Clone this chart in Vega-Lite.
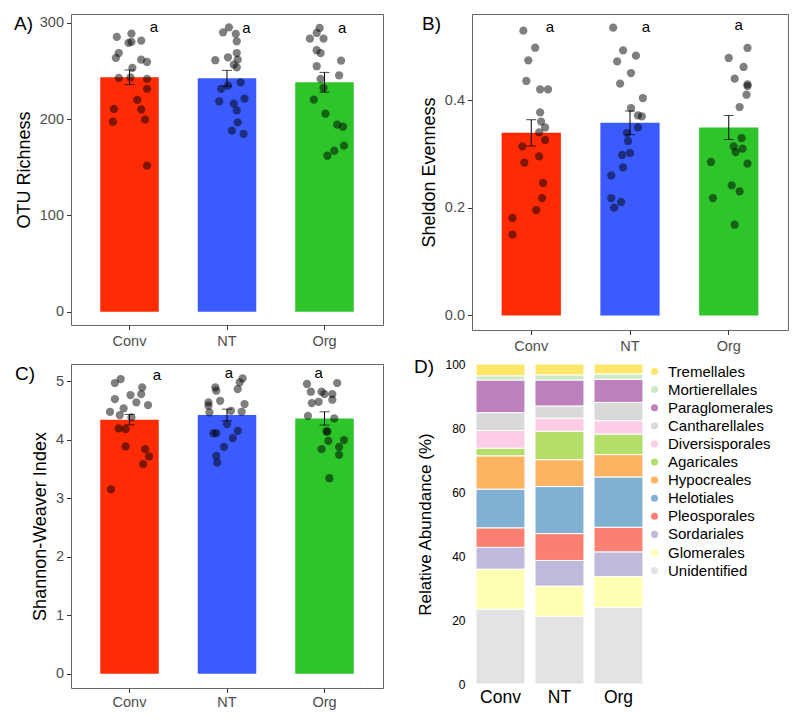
{
  "$schema": "https://vega.github.io/schema/vega-lite/v6.json",
  "background": "white",
  "padding": {"left": 13, "top": 13, "right": 0, "bottom": 0},
  "config": {
    "font": "Liberation Sans",
    "view": {"stroke": "#666666", "strokeWidth": 1},
    "axis": {"domain": false, "grid": false, "labelFontSize": 14.5, "labelColor": "#4D4D4D", "titleFontSize": 18, "titleFontWeight": "normal", "titleColor": "black", "tickColor": "#333333", "tickSize": 4.5, "labelPadding": 3, "titlePadding": 6},
    "axisX": {"labelPadding": 5},
    "title": {"fontSize": 19, "fontWeight": "normal", "color": "black", "anchor": "start", "frame": "group", "offset": 0, "baseline": "alphabetic"}
  },
  "datasets": {
    "ricP": [
      {"t":"Conv","v":285.2,"j":-0.13},{"t":"Conv","v":288.6,"j":0.02},{"t":"Conv","v":280,"j":0.02},{"t":"Conv","v":279,"j":-0.01},{"t":"Conv","v":281.3,"j":0.12},{"t":"Conv","v":268.5,"j":-0.11},{"t":"Conv","v":263.4,"j":-0.14},{"t":"Conv","v":261.6,"j":0.12},{"t":"Conv","v":259.2,"j":0.18},{"t":"Conv","v":253,"j":0.03},{"t":"Conv","v":242.6,"j":-0.11},{"t":"Conv","v":243.3,"j":0.01},{"t":"Conv","v":241.6,"j":0.18},{"t":"Conv","v":231.2,"j":0.18},{"t":"Conv","v":219.8,"j":0.08},{"t":"Conv","v":210.4,"j":-0.16},{"t":"Conv","v":210.1,"j":0.12},{"t":"Conv","v":197.2,"j":-0.17},{"t":"Conv","v":199.3,"j":0.16},{"t":"Conv","v":151.6,"j":0.18},
      {"t":"NT","v":295.2,"j":0.02},{"t":"NT","v":290,"j":-0.04},{"t":"NT","v":288.3,"j":0.09},{"t":"NT","v":280.7,"j":0.1},{"t":"NT","v":268.5,"j":0.1},{"t":"NT","v":264.1,"j":0.01},{"t":"NT","v":261,"j":-0.12},{"t":"NT","v":261.6,"j":0.11},{"t":"NT","v":256.4,"j":0.07},{"t":"NT","v":253.7,"j":0.1},{"t":"NT","v":238.1,"j":0.14},{"t":"NT","v":234.6,"j":0.01},{"t":"NT","v":231.2,"j":-0.06},{"t":"NT","v":221.1,"j":0.18},{"t":"NT","v":218.4,"j":-0.08},{"t":"NT","v":215.9,"j":0.07},{"t":"NT","v":209,"j":0.1},{"t":"NT","v":196.6,"j":0.11},{"t":"NT","v":187.9,"j":0.05},{"t":"NT","v":184.5,"j":0.17},
      {"t":"Org","v":294.5,"j":-0.05},{"t":"Org","v":289.3,"j":-0.08},{"t":"Org","v":283.4,"j":-0.15},{"t":"Org","v":283.4,"j":-0.01},{"t":"Org","v":271.4,"j":-0.08},{"t":"Org","v":268.5,"j":-0.04},{"t":"Org","v":260.6,"j":0.17},{"t":"Org","v":254.8,"j":-0.08},{"t":"Org","v":245.4,"j":0.15},{"t":"Org","v":241.6,"j":-0.04},{"t":"Org","v":232.2,"j":-0.01},{"t":"Org","v":220.1,"j":-0.11},{"t":"Org","v":205.5,"j":0.01},{"t":"Org","v":194.1,"j":0.13},{"t":"Org","v":192,"j":0.19},{"t":"Org","v":167.1,"j":0.1},{"t":"Org","v":172.3,"j":0.2},{"t":"Org","v":161.9,"j":0.03}
    ],
    "ricS": [
      {"t":"Conv","m":243.3,"se":7.6,"ly":296,"lx":0.25,"sig":"a"},
      {"t":"NT","m":242.3,"se":8.2,"ly":294,"lx":0.2,"sig":"a"},
      {"t":"Org","m":238.1,"se":10.3,"ly":294,"lx":0.18,"sig":"a"}
    ],
    "evP": [
      {"t":"Conv","v":0.5287,"j":-0.08},{"t":"Conv","v":0.4971,"j":0.04},{"t":"Conv","v":0.4736,"j":-0.03},{"t":"Conv","v":0.4353,"j":-0.05},{"t":"Conv","v":0.4197,"j":0.09},{"t":"Conv","v":0.4197,"j":0.17},{"t":"Conv","v":0.377,"j":0.09},{"t":"Conv","v":0.36,"j":0.1},{"t":"Conv","v":0.349,"j":0.14},{"t":"Conv","v":0.34,"j":0.08},{"t":"Conv","v":0.3257,"j":0.14},{"t":"Conv","v":0.3139,"j":-0.09},{"t":"Conv","v":0.2953,"j":0.08},{"t":"Conv","v":0.2836,"j":-0.07},{"t":"Conv","v":0.2459,"j":0.12},{"t":"Conv","v":0.218,"j":0.11},{"t":"Conv","v":0.1957,"j":0.05},{"t":"Conv","v":0.1809,"j":-0.19},{"t":"Conv","v":0.1499,"j":-0.19},
      {"t":"NT","v":0.5343,"j":-0.17},{"t":"NT","v":0.4921,"j":-0.07},{"t":"NT","v":0.4823,"j":0.06},{"t":"NT","v":0.4717,"j":-0.13},{"t":"NT","v":0.4501,"j":0.01},{"t":"NT","v":0.4303,"j":-0.1},{"t":"NT","v":0.4037,"j":0.13},{"t":"NT","v":0.3851,"j":0.01},{"t":"NT","v":0.3714,"j":0.08},{"t":"NT","v":0.3695,"j":0.12},{"t":"NT","v":0.3491,"j":0.08},{"t":"NT","v":0.3387,"j":-0.03},{"t":"NT","v":0.3239,"j":-0.02},{"t":"NT","v":0.2979,"j":-0.08},{"t":"NT","v":0.3016,"j":0.0},{"t":"NT","v":0.2748,"j":-0.07},{"t":"NT","v":0.26,"j":-0.19},{"t":"NT","v":0.218,"j":-0.19},{"t":"NT","v":0.2106,"j":-0.09},{"t":"NT","v":0.2,"j":-0.16},
      {"t":"Org","v":0.4966,"j":0.19},{"t":"Org","v":0.478,"j":0.0},{"t":"Org","v":0.4613,"j":0.15},{"t":"Org","v":0.4396,"j":0.06},{"t":"Org","v":0.429,"j":0.19},{"t":"Org","v":0.426,"j":0.19},{"t":"Org","v":0.4098,"j":0.18},{"t":"Org","v":0.387,"j":0.11},{"t":"Org","v":0.3294,"j":0.13},{"t":"Org","v":0.3138,"j":0.05},{"t":"Org","v":0.3096,"j":0.14},{"t":"Org","v":0.3034,"j":0.07},{"t":"Org","v":0.2849,"j":-0.18},{"t":"Org","v":0.2817,"j":0.19},{"t":"Org","v":0.2414,"j":0.03},{"t":"Org","v":0.2303,"j":0.11},{"t":"Org","v":0.218,"j":-0.16},{"t":"Org","v":0.1684,"j":0.06}
    ],
    "evS": [
      {"t":"Conv","m":0.339,"se":0.0244,"ly":0.535,"lx":0.19,"sig":"a"},
      {"t":"NT","m":0.3576,"se":0.022,"ly":0.535,"lx":0.16,"sig":"a"},
      {"t":"Org","m":0.349,"se":0.0223,"ly":0.539,"lx":0.1,"sig":"a"}
    ],
    "shP": [
      {"t":"Conv","v":5.04,"j":-0.09},{"t":"Conv","v":4.972,"j":-0.15},{"t":"Conv","v":4.898,"j":0.13},{"t":"Conv","v":4.783,"j":0.12},{"t":"Conv","v":4.766,"j":0.01},{"t":"Conv","v":4.697,"j":-0.15},{"t":"Conv","v":4.641,"j":0.07},{"t":"Conv","v":4.595,"j":0.19},{"t":"Conv","v":4.538,"j":-0.06},{"t":"Conv","v":4.48,"j":-0.2},{"t":"Conv","v":4.423,"j":-0.1},{"t":"Conv","v":4.384,"j":0.02},{"t":"Conv","v":4.195,"j":-0.11},{"t":"Conv","v":4.183,"j":-0.04},{"t":"Conv","v":3.886,"j":-0.04},{"t":"Conv","v":3.84,"j":0.16},{"t":"Conv","v":3.715,"j":0.2},{"t":"Conv","v":3.583,"j":0.14},{"t":"Conv","v":3.154,"j":-0.19},
      {"t":"NT","v":5.052,"j":0.16},{"t":"NT","v":4.984,"j":0.13},{"t":"NT","v":4.869,"j":0.11},{"t":"NT","v":4.898,"j":-0.12},{"t":"NT","v":4.84,"j":-0.11},{"t":"NT","v":4.668,"j":-0.07},{"t":"NT","v":4.641,"j":-0.19},{"t":"NT","v":4.612,"j":0.18},{"t":"NT","v":4.583,"j":-0.19},{"t":"NT","v":4.469,"j":-0.18},{"t":"NT","v":4.497,"j":0.04},{"t":"NT","v":4.48,"j":0.15},{"t":"NT","v":4.269,"j":0.0},{"t":"NT","v":4.154,"j":0.11},{"t":"NT","v":4.109,"j":-0.14},{"t":"NT","v":4.114,"j":-0.11},{"t":"NT","v":4.029,"j":0.06},{"t":"NT","v":3.88,"j":-0.03},{"t":"NT","v":3.725,"j":-0.11},{"t":"NT","v":3.612,"j":-0.1},
      {"t":"Org","v":4.955,"j":-0.18},{"t":"Org","v":4.972,"j":0.13},{"t":"Org","v":4.823,"j":-0.14},{"t":"Org","v":4.823,"j":-0.03},{"t":"Org","v":4.783,"j":0.0},{"t":"Org","v":4.783,"j":0.08},{"t":"Org","v":4.686,"j":0.08},{"t":"Org","v":4.651,"j":-0.06},{"t":"Org","v":4.629,"j":-0.13},{"t":"Org","v":4.411,"j":-0.17},{"t":"Org","v":4.366,"j":0.1},{"t":"Org","v":4.143,"j":0.02},{"t":"Org","v":4.143,"j":0.03},{"t":"Org","v":3.983,"j":0.04},{"t":"Org","v":3.995,"j":0.2},{"t":"Org","v":3.88,"j":0.15},{"t":"Org","v":3.84,"j":-0.03},{"t":"Org","v":3.743,"j":0.15},{"t":"Org","v":3.343,"j":0.05}
    ],
    "shS": [
      {"t":"Conv","m":4.345,"se":0.09,"ly":5.114,"lx":0.28,"sig":"a"},
      {"t":"NT","m":4.425,"se":0.1,"ly":5.138,"lx":0.02,"sig":"a"},
      {"t":"Org","m":4.366,"se":0.114,"ly":5.138,"lx":-0.06,"sig":"a"}
    ],
    "abund": [
      {"t":"Conv","o":"Unidentified","k":1,"p":23.4},{"t":"Conv","o":"Glomerales","k":2,"p":12.5},{"t":"Conv","o":"Sordariales","k":3,"p":6.8},{"t":"Conv","o":"Pleosporales","k":4,"p":6.1},{"t":"Conv","o":"Helotiales","k":5,"p":12.1},{"t":"Conv","o":"Hypocreales","k":6,"p":10.4},{"t":"Conv","o":"Agaricales","k":7,"p":2.4},{"t":"Conv","o":"Diversisporales","k":8,"p":5.5},{"t":"Conv","o":"Cantharellales","k":9,"p":5.6},{"t":"Conv","o":"Paraglomerales","k":10,"p":10.2},{"t":"Conv","o":"Mortierellales","k":11,"p":1.3},{"t":"Conv","o":"Tremellales","k":12,"p":3.7},
      {"t":"NT","o":"Unidentified","k":1,"p":21.1},{"t":"NT","o":"Glomerales","k":2,"p":9.5},{"t":"NT","o":"Sordariales","k":3,"p":8.0},{"t":"NT","o":"Pleosporales","k":4,"p":8.4},{"t":"NT","o":"Helotiales","k":5,"p":14.7},{"t":"NT","o":"Hypocreales","k":6,"p":8.4},{"t":"NT","o":"Agaricales","k":7,"p":8.9},{"t":"NT","o":"Diversisporales","k":8,"p":4.1},{"t":"NT","o":"Cantharellales","k":9,"p":3.8},{"t":"NT","o":"Paraglomerales","k":10,"p":8.1},{"t":"NT","o":"Mortierellales","k":11,"p":1.6},{"t":"NT","o":"Tremellales","k":12,"p":3.4},
      {"t":"Org","o":"Unidentified","k":1,"p":23.9},{"t":"Org","o":"Glomerales","k":2,"p":9.7},{"t":"Org","o":"Sordariales","k":3,"p":7.7},{"t":"Org","o":"Pleosporales","k":4,"p":7.7},{"t":"Org","o":"Helotiales","k":5,"p":15.7},{"t":"Org","o":"Hypocreales","k":6,"p":7.0},{"t":"Org","o":"Agaricales","k":7,"p":6.4},{"t":"Org","o":"Diversisporales","k":8,"p":4.2},{"t":"Org","o":"Cantharellales","k":9,"p":5.7},{"t":"Org","o":"Paraglomerales","k":10,"p":7.2},{"t":"Org","o":"Mortierellales","k":11,"p":1.7},{"t":"Org","o":"Tremellales","k":12,"p":3.1}
    ]
  },
  "concat": [
    {
      "width": 312, "height": 311,
      "title": {"text": "A)", "dx": -57, "dy": 24},
      "resolve": {"scale": {"xOffset": "independent"}},
      "encoding": {
        "x": {"field": "t", "type": "nominal", "title": null, "scale": {"domain": ["Conv","NT","Org"], "paddingInner": 0.4, "paddingOuter": 0.3}, "axis": {"labelAngle": 0}}
      },
      "layer": [
        {"data": {"name": "ricS"}, "mark": {"type": "bar"},
         "encoding": {
           "y": {"field": "m", "type": "quantitative", "title": "OTU Richness", "scale": {"domain": [-13.8, 309], "nice": false, "zero": false}, "axis": {"values": [0,100,200,300], "format": "d"}},
           "y2": {"datum": 0},
           "color": {"field": "t", "type": "nominal", "scale": {"domain": ["Conv","NT","Org"], "range": ["#FF2B05","#3B5BFF","#2DC52A"]}, "legend": null}
         }},
        {"data": {"name": "ricP"}, "mark": {"type": "circle", "size": 68, "color": "black", "opacity": 0.5},
         "encoding": {
           "y": {"field": "v", "type": "quantitative", "title": "OTU Richness", "scale": {"domain": [-13.8, 309], "nice": false, "zero": false}},
           "xOffset": {"field": "j", "type": "quantitative", "scale": {"domain": [-0.5, 0.5], "range": [-19.5, 78]}}
         }},
        {"data": {"name": "ricS"}, "mark": {"type": "errorbar", "ticks": {"size": 10}, "color": "black"},
         "encoding": {
           "y": {"field": "m", "type": "quantitative", "title": "OTU Richness", "scale": {"domain": [-13.8, 309], "nice": false, "zero": false}},
           "yError": {"field": "se"}
         }},
        {"data": {"name": "ricS"}, "mark": {"type": "text", "fontSize": 15, "color": "black", "baseline": "middle"},
         "encoding": {
           "y": {"field": "ly", "type": "quantitative", "title": "OTU Richness", "scale": {"domain": [-13.8, 309], "nice": false, "zero": false}},
           "xOffset": {"field": "lx", "type": "quantitative", "scale": {"domain": [-0.5, 0.5], "range": [-19.5, 78]}},
           "text": {"field": "sig"}
         }}
      ]
    },
    {
      "width": 316, "height": 316,
      "title": {"text": "B)", "dx": -50, "dy": 24},
      "resolve": {"scale": {"xOffset": "independent"}},
      "encoding": {
        "x": {"field": "t", "type": "nominal", "title": null, "scale": {"domain": ["Conv","NT","Org"], "paddingInner": 0.4, "paddingOuter": 0.3}, "axis": {"labelAngle": 0}}
      },
      "layer": [
        {"data": {"name": "evS"}, "mark": {"type": "bar"},
         "encoding": {
           "y": {"field": "m", "type": "quantitative", "title": "Sheldon Evenness", "scale": {"domain": [-0.0271, 0.5597], "nice": false, "zero": false}, "axis": {"values": [0,0.2,0.4], "format": ".1f"}},
           "y2": {"datum": 0},
           "color": {"field": "t", "type": "nominal", "scale": {"domain": ["Conv","NT","Org"], "range": ["#FF2B05","#3B5BFF","#2DC52A"]}, "legend": null}
         }},
        {"data": {"name": "evP"}, "mark": {"type": "circle", "size": 68, "color": "black", "opacity": 0.5},
         "encoding": {
           "y": {"field": "v", "type": "quantitative", "title": "Sheldon Evenness", "scale": {"domain": [-0.0271, 0.5597], "nice": false, "zero": false}},
           "xOffset": {"field": "j", "type": "quantitative", "scale": {"domain": [-0.5, 0.5], "range": [-19.75, 79]}}
         }},
        {"data": {"name": "evS"}, "mark": {"type": "errorbar", "ticks": {"size": 10}, "color": "black"},
         "encoding": {
           "y": {"field": "m", "type": "quantitative", "title": "Sheldon Evenness", "scale": {"domain": [-0.0271, 0.5597], "nice": false, "zero": false}},
           "yError": {"field": "se"}
         }},
        {"data": {"name": "evS"}, "mark": {"type": "text", "fontSize": 15, "color": "black", "baseline": "middle"},
         "encoding": {
           "y": {"field": "ly", "type": "quantitative", "title": "Sheldon Evenness", "scale": {"domain": [-0.0271, 0.5597], "nice": false, "zero": false}},
           "xOffset": {"field": "lx", "type": "quantitative", "scale": {"domain": [-0.5, 0.5], "range": [-19.75, 79]}},
           "text": {"field": "sig"}
         }}
      ]
    },
    {
      "width": 312, "height": 324,
      "title": {"text": "C)", "dx": -56, "dy": 24},
      "resolve": {"scale": {"xOffset": "independent"}},
      "encoding": {
        "x": {"field": "t", "type": "nominal", "title": null, "scale": {"domain": ["Conv","NT","Org"], "paddingInner": 0.4, "paddingOuter": 0.3}, "axis": {"labelAngle": 0, "labelPadding": 3}}
      },
      "layer": [
        {"data": {"name": "shS"}, "mark": {"type": "bar"},
         "encoding": {
           "y": {"field": "m", "type": "quantitative", "title": "Shannon-Weaver Index", "scale": {"domain": [-0.245, 5.297], "nice": false, "zero": false}, "axis": {"values": [0,1,2,3,4,5], "format": "d"}},
           "y2": {"datum": 0},
           "color": {"field": "t", "type": "nominal", "scale": {"domain": ["Conv","NT","Org"], "range": ["#FF2B05","#3B5BFF","#2DC52A"]}, "legend": null}
         }},
        {"data": {"name": "shP"}, "mark": {"type": "circle", "size": 68, "color": "black", "opacity": 0.5},
         "encoding": {
           "y": {"field": "v", "type": "quantitative", "title": "Shannon-Weaver Index", "scale": {"domain": [-0.245, 5.297], "nice": false, "zero": false}},
           "xOffset": {"field": "j", "type": "quantitative", "scale": {"domain": [-0.5, 0.5], "range": [-19.5, 78]}}
         }},
        {"data": {"name": "shS"}, "mark": {"type": "errorbar", "ticks": {"size": 10}, "color": "black"},
         "encoding": {
           "y": {"field": "m", "type": "quantitative", "title": "Shannon-Weaver Index", "scale": {"domain": [-0.245, 5.297], "nice": false, "zero": false}},
           "yError": {"field": "se"}
         }},
        {"data": {"name": "shS"}, "mark": {"type": "text", "fontSize": 15, "color": "black", "baseline": "middle"},
         "encoding": {
           "y": {"field": "ly", "type": "quantitative", "title": "Shannon-Weaver Index", "scale": {"domain": [-0.245, 5.297], "nice": false, "zero": false}},
           "xOffset": {"field": "lx", "type": "quantitative", "scale": {"domain": [-0.5, 0.5], "range": [-19.5, 78]}},
           "text": {"field": "sig"}
         }}
      ]
    },
    {
      "width": 181, "height": 320,
      "view": {"stroke": null},
      "title": {"text": "D)", "dx": -58, "dy": 23},
      "data": {"name": "abund"},
      "mark": {"type": "bar", "stroke": "white", "strokeWidth": 1},
      "encoding": {
        "x": {"field": "t", "type": "nominal", "title": null, "scale": {"domain": ["Conv","NT","Org"], "paddingInner": 0.17, "paddingOuter": 0.119, "align": 0.285}, "axis": {"labelAngle": 0, "ticks": false, "labelFontSize": 17.5, "labelColor": "black", "labelPadding": 4}},
        "y": {"field": "p", "type": "quantitative", "title": "Relative Abundance (%)", "stack": "zero", "scale": {"domain": [0, 100], "nice": false}, "axis": {"values": [0,20,40,60,80,100], "ticks": false, "labelFontSize": 12, "labelColor": "black", "labelPadding": 7, "titleFontSize": 17, "titlePadding": 10}},
        "order": {"field": "k", "type": "quantitative", "sort": "ascending"},
        "color": {"field": "o", "type": "nominal",
          "scale": {"domain": ["Tremellales","Mortierellales","Paraglomerales","Cantharellales","Diversisporales","Agaricales","Hypocreales","Helotiales","Pleosporales","Sordariales","Glomerales","Unidentified"],
                    "range": ["#FFE66B","#CCEBC5","#BC80BD","#D9D9D9","#FCCDE5","#B3DE69","#FDB462","#80B1D3","#FB8072","#BEBADA","#FFFFB3","#E3E3E3"]},
          "legend": {"title": null, "orient": "right", "offset": -6, "padding": 0, "symbolType": "circle", "symbolSize": 50, "symbolStrokeWidth": 0, "labelFontSize": 15, "labelColor": "black", "rowPadding": 2.1, "labelOffset": 6}}
      }
    }
  ],
  "columns": 2,
  "bounds": "flush",
  "align": "each",
  "spacing": {"row": 34, "column": 89},
  "resolve": {"scale": {"color": "independent", "xOffset": "independent"}, "legend": {"color": "independent"}}
}
